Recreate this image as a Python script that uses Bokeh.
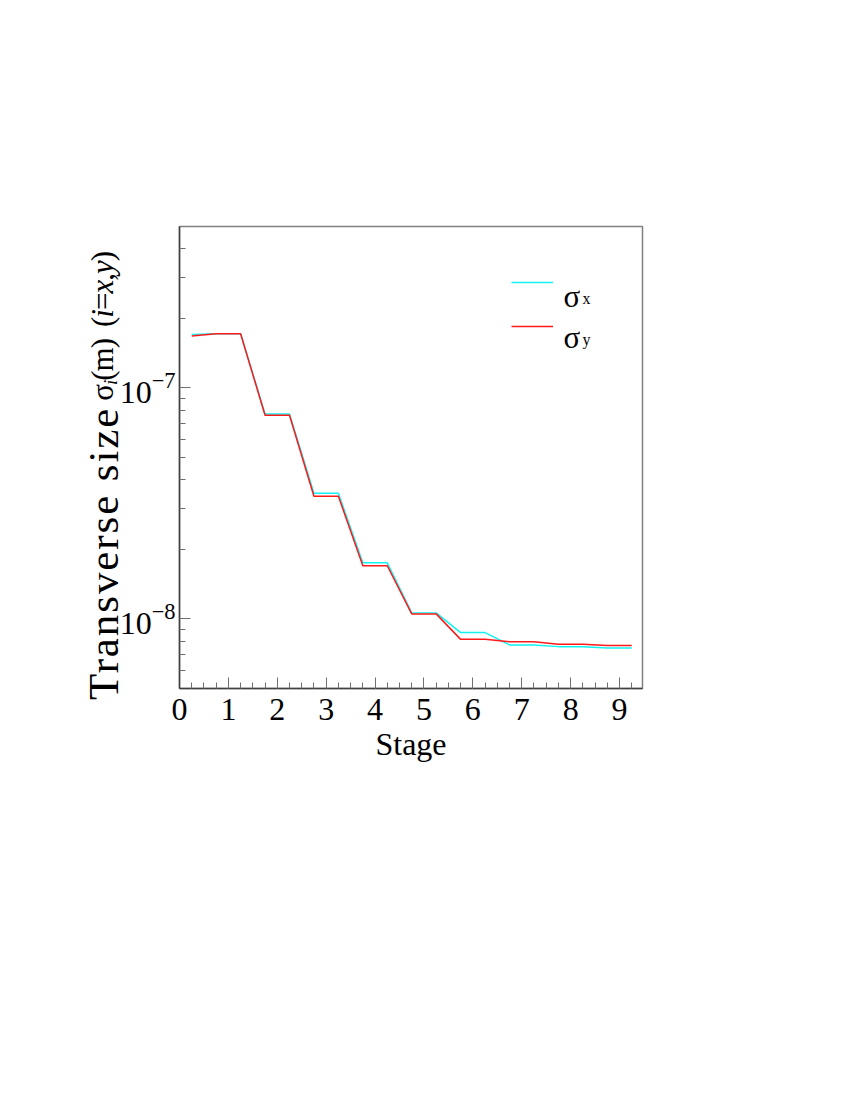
from bokeh.plotting import figure
from bokeh.layouts import row
from bokeh.models import Range1d, FixedTicker, Label, Legend, LegendItem, Div
from bokeh.core.properties import value
from bokeh.embed import file_html
from bokeh.resources import INLINE

# ---- data ----
stage = [0, 1, 2, 3, 4, 5, 6, 7, 8, 9]
sigma_x = [1.706e-7, 1.717e-7, 7.72e-8, 3.50e-8, 1.75e-8, 1.062e-8, 8.73e-9, 7.72e-9, 7.59e-9, 7.49e-9]
sigma_y = [1.680e-7, 1.717e-7, 7.62e-8, 3.40e-8, 1.70e-8, 1.052e-8, 8.16e-9, 7.96e-9, 7.77e-9, 7.67e-9]
x_major_ticks = [0, 1, 2, 3, 4, 5, 6, 7, 8, 9]
x_minor_step = 0.25
y_major_ticks = [1e-8, 1e-7]
y_minor_ticks = [6e-9, 7e-9, 8e-9, 9e-9, 2e-8, 3e-8, 4e-8, 5e-8, 6e-8, 7e-8, 8e-8, 9e-8,
                 2e-7, 3e-7, 4e-7]
x_label = "Stage"

HALF = 0.25  # each stage drawn as a flat plateau of half-width 0.25


def step_points(st, vals):
    xs, ys = [st[0] + HALF], [vals[0]]
    for s, v in zip(st[1:], vals[1:]):
        xs += [s - HALF, s + HALF]
        ys += [v, v]
    return xs, ys


xs_x, ys_x = step_points(stage, sigma_x)
xs_y, ys_y = step_points(stage, sigma_y)

FONT = "Liberation Serif"
H = 820
LW = 116          # width of the strip holding the rotated y-axis title
FRAME_TOP = 226
FRAME_H = 462
FRAME_W = 463
BORDER_L = 63

# ---------------- main plot ----------------
p = figure(width=BORDER_L + FRAME_W + 60, height=H, output_backend="svg",
           toolbar_location=None, y_axis_type="log",
           x_range=Range1d(0, 9.47), y_range=Range1d(5e-9, 5e-7),
           min_border_left=BORDER_L, min_border_right=60, min_border_top=FRAME_TOP,
           min_border_bottom=H - FRAME_TOP - FRAME_H)
p.background_fill_color = "white"
p.border_fill_alpha = 0
p.outline_line_color = "#808080"
p.outline_line_width = 1.5
p.grid.visible = False

rx = p.line(xs_x, ys_x, line_color="#12f2f2", line_width=1.5)
ry = p.line(xs_y, ys_y, line_color="#ff1a1a", line_width=1.5)

for ax in (p.xaxis[0], p.yaxis[0]):
    ax.axis_line_color = "#404040"
    ax.axis_line_width = 1.5
    ax.major_tick_in = 11
    ax.major_tick_out = 0
    ax.minor_tick_in = 6
    ax.minor_tick_out = 0
    ax.major_tick_line_color = "#707070"
    ax.minor_tick_line_color = "#707070"
    ax.major_label_text_font = FONT
    ax.major_label_text_font_size = "32px"
    ax.major_label_text_color = "black"

n_minor = int(round(9.47 / x_minor_step))
p.xaxis.ticker = FixedTicker(ticks=x_major_ticks,
                             minor_ticks=[i * x_minor_step for i in range(n_minor + 1)])
p.xaxis.major_label_standoff = 10
p.xaxis.axis_label = x_label
p.xaxis.axis_label_text_font = FONT
p.xaxis.axis_label_text_font_size = "32px"
p.xaxis.axis_label_text_font_style = "normal"
p.xaxis.axis_label_standoff = 3
p.xaxis.axis_label_text_color = "black"

p.yaxis.ticker = FixedTicker(ticks=y_major_ticks, minor_ticks=y_minor_ticks)
p.yaxis.major_label_standoff = 4

# legend: sample lines via Legend, texts via labels (sigma with subscript)
legend = Legend(items=[LegendItem(label=value(" "), renderers=[rx]),
                       LegendItem(label=value(" "), renderers=[ry])],
                location=(332, 352), padding=0, margin=0, spacing=24,
                glyph_width=42, glyph_height=20, label_width=0, label_height=20,
                label_standoff=0, border_line_color=None,
                background_fill_alpha=0)
p.add_layout(legend)


def leg(text, x, y, size):
    p.add_layout(Label(x=x, y=y, x_units="screen", y_units="screen", text=text,
                       text_font=FONT, text_font_size=size, text_align="left",
                       text_baseline="alphabetic", text_color="black"))


leg("\u03c3", 384, 392, "31px")
leg("x", 403, 390, "16px")
leg("\u03c3", 384, 351, "31px")
leg("y", 403, 349, "16px")

# ---------------- rotated y-axis title (HTML text, italic + subscript) ----------------
FF = "font-family:Liberation Serif,Times New Roman,serif;"
title_html = (
    f'<div style="position:relative;width:{LW}px;height:{H}px;overflow:visible;{FF}">'
    f'<div style="position:absolute;left:82px;top:700px;transform-origin:0 0;'
    f'transform:rotate(-90deg);white-space:nowrap;{FF}color:#000;line-height:1;font-size:43px;">'
    f'<span style="{FF}letter-spacing:1.9px;">Transverse size</span>'
    f'<span style="{FF}margin-left:6px;font-size:31px;letter-spacing:-1px;position:relative;top:-5px;">&#963;'
    f'<span style="{FF}font-size:19px;font-style:italic;position:relative;top:4px;">i</span>(m)</span>'
    f'<span style="{FF}margin-left:12px;font-size:31px;letter-spacing:-1px;position:relative;top:-5px;">'
    f'(<i>i</i>=<i>x</i>,<i>y</i>)</span>'
    f'</div></div>'
)
ytitle = Div(text=title_html, width=LW, height=H, margin=0,
             styles={"overflow": "visible", "font-family": "Liberation Serif"})

layout = row(ytitle, p)
open("out.html", "w").write(file_html(layout, INLINE))
